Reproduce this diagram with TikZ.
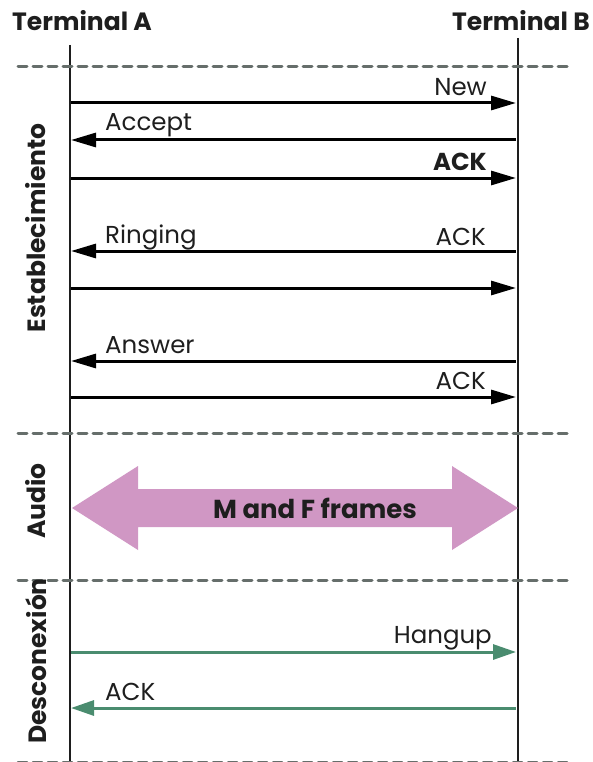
\documentclass[tikz,border=0pt]{standalone}
\usepackage{fontspec}
\setmainfont{Poppins}
\usetikzlibrary{arrows.meta}
\definecolor{dashgray}{HTML}{666E6B}
\definecolor{audiopink}{HTML}{D097C4}
\definecolor{discgreen}{HTML}{4A8C6F}
\definecolor{ink}{HTML}{1E1E1E}
\tikzset{
  lifeline/.style={draw=ink, line width=1.8pt},
  sep/.style={draw=dashgray, line width=3pt, dash pattern=on 9pt off 6pt, line cap=round},
  msg/.style={draw=black, line width=3pt, -{Triangle[length=25pt,width=14pt]}},
  gmsg/.style={draw=discgreen, line width=3pt, -{Triangle[length=23pt,width=15pt]}},
  lbl/.style={font=\fontsize{24.5}{28}\selectfont, text=ink, inner sep=0pt},
  title/.style={font=\fontsize{25}{28}\selectfont\bfseries, text=ink, inner sep=0pt},
  side/.style={font=\fontsize{25}{28}\selectfont\bfseries, text=ink, inner sep=0pt, rotate=90},
}
\begin{document}
\begin{tikzpicture}[x=1pt,y=-1pt]
\useasboundingbox (0,0) rectangle (592,762);
% titles
\node[title, anchor=base west] (tA) at (12,31) {Terminal A};
\node[title, anchor=base east] (tB) at (590,31) {Terminal B};
% lifelines
\coordinate (Atop) at (70,45);
\coordinate (Abot) at (70,762);
\coordinate (Btop) at (518,38);
\coordinate (Bbot) at (518,762);
\draw[lifeline] (Atop) -- (Abot);
\draw[lifeline] (Btop) -- (Bbot);
% separators
\foreach \y/\n in {67/s1,433/s2,580/s3,762/s4}{
  \coordinate (\n l) at (18,\y);
  \coordinate (\n r) at (570,\y);
  \draw[sep] (\n l) -- (\n r);
}
% side labels
\node[side] (est) at (36,228) {Establecimiento};
\node[side] (aud) at (36,501) {Audio};
\node[side] (des) at (36,661) {Desconexión};
% messages
\foreach \y/\n in {103/m1,140/m2,178/m3,251/m4,288/m5,361/m6,397/m7,652/m8,708/m9}{
  \coordinate (\n a) at (71,\y);
  \coordinate (\n b) at (516,\y);
}
\draw[msg] (m1a) -- (m1b);
\draw[msg] (m2b) -- (m2a);
\draw[msg] (m3a) -- (m3b);
\draw[msg] (m4b) -- (m4a);
\draw[msg] (m5a) -- (m5b);
\draw[msg] (m6b) -- (m6a);
\draw[msg] (m7a) -- (m7b);
\draw[gmsg] (m8a) -- (m8b);
\draw[gmsg] (m9b) -- (m9a);
% labels
\node[lbl, anchor=base east] (lNew) at (487,96) {New};
\node[lbl, anchor=base west] (lAcc) at (105,131) {Accept};
\node[lbl, anchor=base east, font=\fontsize{24.5}{28}\selectfont\bfseries] (lAck1) at (487,171) {ACK};
\node[lbl, anchor=base west] (lRing) at (105,243) {Ringing};
\node[lbl, anchor=base east] (lAck2) at (486,245) {ACK};
\node[lbl, anchor=base west] (lAns) at (105,353) {Answer};
\node[lbl, anchor=base east] (lAck3) at (486,389) {ACK};
\node[lbl, anchor=base east] (lHang) at (492,643) {Hangup};
\node[lbl, anchor=base west] (lAck4) at (105,700) {ACK};
% audio double arrow
\fill[audiopink] (72,508) -- (138,466) -- (138,489) -- (452,489) -- (452,466) -- (518,508)
  -- (452,550) -- (452,527) -- (138,527) -- (138,550) -- cycle;
\node[title, font=\fontsize{26}{30}\selectfont\bfseries] (frames) at (315,508) {M and F frames};
\end{tikzpicture}
\end{document}
